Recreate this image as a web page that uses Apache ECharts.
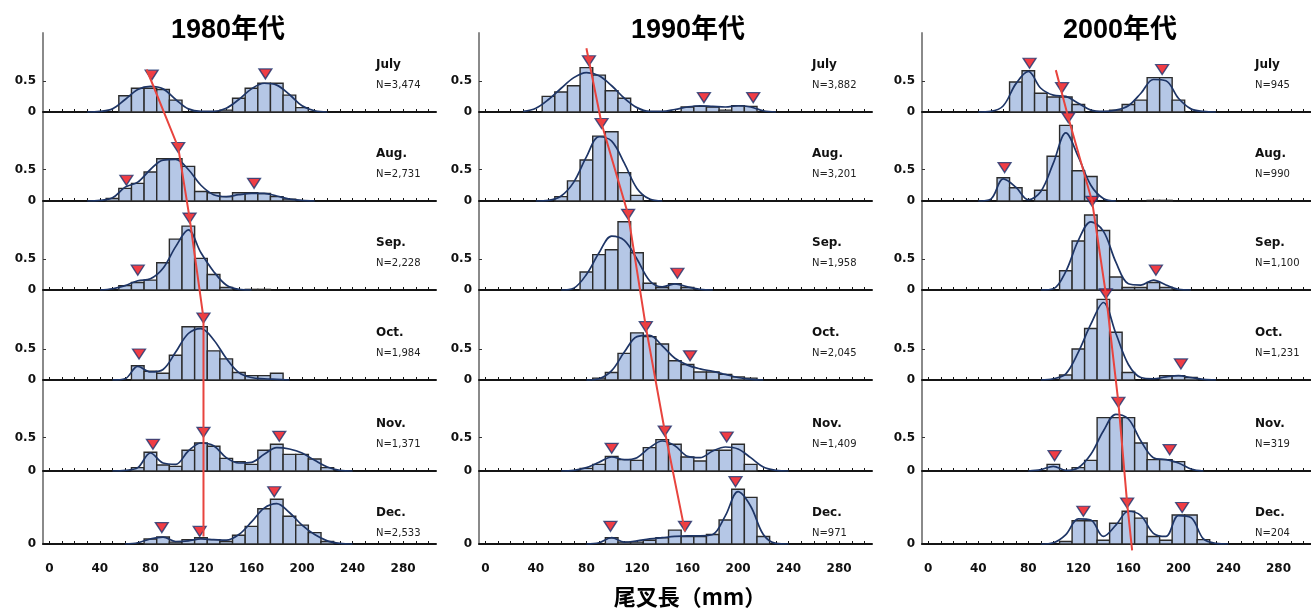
<!DOCTYPE html>
<html>
<head>
<meta charset="utf-8">
<script src="https://cdn.jsdelivr.net/npm/echarts@6/dist/echarts.min.js"></script>
<style>
html, body { margin: 0; padding: 0; background: #fff; }
#chart { width: 1311px; height: 610px; }
</style>
</head>
<body>
<div id="chart"></div>
<script>
// fork length classes (mm), one value per 10 mm bin
const lengths = [30, 40, 50, 60, 70, 80, 90, 100, 110, 120, 130, 140, 150, 160, 170, 180, 190, 200, 210, 220, 230, 240];
const decades = ['1980年代', '1990年代', '2000年代'];
const months = ['July', 'Aug.', 'Sep.', 'Oct.', 'Nov.', 'Dec.'];
const n1980 = ['3,474', '2,731', '2,228', '1,984', '1,371', '2,533'];
const n1990 = ['3,882', '3,201', '1,958', '2,045', '1,409', '971'];
const n2000 = ['945', '990', '1,100', '1,231', '319', '204'];
const xTicks = [0, 10, 20, 30, 40, 50, 60, 70, 80, 90, 100, 110, 120, 130, 140, 150, 160, 170, 180, 190, 200, 210, 220, 230, 240, 250, 260, 270, 280, 290, 300];
const xLabels = [0, 40, 80, 120, 160, 200, 240, 280];

const bars1980 = [
    [0, 0, 0, 0.26, 0.38, 0.38, 0.36, 0.19, 0, 0, 0, 0.03, 0.22, 0.38, 0.46, 0.46, 0.27, 0.07, 0, 0, 0, 0],
    [0, 0, 0.04, 0.2, 0.28, 0.46, 0.67, 0.67, 0.55, 0.15, 0.13, 0.07, 0.13, 0.13, 0.12, 0.07, 0.03, 0, 0, 0, 0, 0],
    [0, 0, 0, 0.07, 0.12, 0.16, 0.44, 0.82, 1.03, 0.51, 0.25, 0.04, 0, 0.01, 0.01, 0, 0, 0, 0, 0, 0, 0],
    [0, 0, 0, 0, 0.23, 0.14, 0.11, 0.4, 0.86, 0.86, 0.47, 0.34, 0.12, 0.07, 0.07, 0.11, 0, 0, 0, 0, 0, 0],
    [0, 0, 0, 0, 0.05, 0.28, 0.09, 0.07, 0.31, 0.42, 0.37, 0.19, 0.14, 0.1, 0.31, 0.4, 0.25, 0.25, 0.18, 0.05, 0, 0],
    [0, 0, 0, 0, 0, 0.08, 0.11, 0.03, 0.07, 0.1, 0.07, 0.04, 0.14, 0.28, 0.56, 0.71, 0.44, 0.3, 0.18, 0.04, 0, 0],
];
const curve1980 = [
    [0, 0.01, 0.05, 0.2, 0.36, 0.41, 0.37, 0.2, 0.05, 0.01, 0.01, 0.06, 0.2, 0.37, 0.46, 0.43, 0.28, 0.1, 0.02, 0, 0, 0],
    [0, 0.01, 0.05, 0.22, 0.3, 0.5, 0.65, 0.66, 0.5, 0.25, 0.1, 0.07, 0.1, 0.12, 0.12, 0.08, 0.03, 0.01, 0, 0, 0, 0],
    [0, 0, 0.02, 0.07, 0.15, 0.18, 0.35, 0.7, 0.97, 0.6, 0.3, 0.08, 0.01, 0, 0, 0, 0, 0, 0, 0, 0, 0],
    [0, 0, 0, 0.02, 0.22, 0.13, 0.17, 0.45, 0.75, 0.83, 0.65, 0.35, 0.12, 0.04, 0.02, 0.01, 0, 0, 0, 0, 0, 0],
    [0, 0, 0, 0.01, 0.05, 0.27, 0.12, 0.1, 0.3, 0.42, 0.38, 0.2, 0.12, 0.13, 0.25, 0.35, 0.33, 0.27, 0.16, 0.06, 0.01, 0],
    [0, 0, 0, 0, 0.02, 0.08, 0.11, 0.04, 0.05, 0.08, 0.07, 0.06, 0.15, 0.35, 0.57, 0.64, 0.5, 0.3, 0.15, 0.05, 0.01, 0],
];
const modes1980 = [
    [[81, 0.59], [171, 0.61]],
    [[61, 0.33], [102, 0.85], [162, 0.28]],
    [[70, 0.32], [111, 1.16]],
    [[71, 0.42], [122, 1.0]],
    [[82, 0.4], [122, 0.58], [182, 0.52]],
    [[89, 0.26], [119, 0.2], [178, 0.83]],
];
// [month row, length, height] of the red growth line
const path1980 = [[0, 77, 0.68], [1, 102, 0.85], [2, 111, 1.16], [3, 122, 1.0], [4, 122, 0.58], [5, 122, 0.12]];

const bars1990 = [
    [0, 0, 0.25, 0.32, 0.42, 0.71, 0.59, 0.34, 0.22, 0, 0, 0, 0, 0.08, 0.09, 0.08, 0.03, 0.1, 0.09, 0, 0, 0],
    [0, 0, 0, 0.07, 0.32, 0.65, 1.03, 1.1, 0.45, 0.09, 0, 0, 0, 0, 0, 0, 0, 0, 0, 0, 0, 0],
    [0, 0, 0, 0, 0, 0.29, 0.57, 0.65, 1.1, 0.6, 0.11, 0.04, 0.1, 0.04, 0, 0, 0, 0, 0, 0, 0, 0],
    [0, 0, 0, 0, 0, 0, 0.03, 0.12, 0.43, 0.76, 0.7, 0.58, 0.31, 0.25, 0.13, 0.13, 0.09, 0.05, 0.03, 0, 0, 0],
    [0, 0, 0, 0, 0, 0.04, 0.1, 0.22, 0.17, 0.16, 0.35, 0.47, 0.4, 0.21, 0.15, 0.31, 0.31, 0.4, 0.1, 0, 0, 0],
    [0, 0, 0, 0, 0, 0, 0, 0.1, 0.03, 0.03, 0.06, 0.1, 0.22, 0.12, 0.12, 0.15, 0.38, 0.87, 0.74, 0.12, 0, 0],
];
const curve1990 = [
    [0.01, 0.06, 0.2, 0.38, 0.55, 0.63, 0.58, 0.42, 0.22, 0.07, 0.01, 0.01, 0.04, 0.08, 0.1, 0.09, 0.08, 0.1, 0.08, 0.02, 0, 0],
    [0, 0, 0.01, 0.08, 0.3, 0.7, 1.02, 0.95, 0.6, 0.2, 0.03, 0, 0, 0, 0, 0, 0, 0, 0, 0, 0, 0],
    [0, 0, 0, 0, 0.03, 0.25, 0.6, 0.87, 0.8, 0.5, 0.15, 0.05, 0.1, 0.05, 0.01, 0, 0, 0, 0, 0, 0, 0],
    [0, 0, 0, 0, 0, 0, 0.02, 0.15, 0.45, 0.7, 0.72, 0.55, 0.35, 0.24, 0.18, 0.14, 0.09, 0.04, 0.01, 0, 0, 0],
    [0, 0, 0, 0, 0.01, 0.05, 0.13, 0.21, 0.17, 0.2, 0.35, 0.45, 0.38, 0.22, 0.2, 0.3, 0.36, 0.33, 0.2, 0.06, 0.01, 0],
    [0, 0, 0, 0, 0, 0, 0.02, 0.1, 0.03, 0.05, 0.08, 0.1, 0.12, 0.13, 0.13, 0.15, 0.45, 0.83, 0.6, 0.15, 0.01, 0],
];
const modes1990 = [
    [[82, 0.82], [173, 0.23], [212, 0.23]],
    [[92, 1.23]],
    [[113, 1.22], [152, 0.27]],
    [[127, 0.86], [162, 0.39]],
    [[100, 0.34], [142, 0.6], [191, 0.51]],
    [[99, 0.28], [158, 0.28], [198, 0.99]],
];
const path1990 = [[0, 80, 1.02], [1, 92, 1.23], [2, 113, 1.22], [3, 127, 0.86], [4, 142, 0.6], [5, 158, 0.2]];

const bars2000 = [
    [0, 0, 0, 0, 0.48, 0.66, 0.3, 0.24, 0.24, 0.12, 0, 0, 0.03, 0.12, 0.19, 0.55, 0.55, 0.19, 0, 0, 0, 0],
    [0, 0, 0, 0.37, 0.21, 0, 0.17, 0.71, 1.2, 0.48, 0.39, 0, 0, 0, 0, 0.01, 0.01, 0, 0, 0, 0, 0],
    [0, 0, 0, 0, 0, 0, 0, 0, 0.31, 0.79, 1.21, 0.96, 0.21, 0.04, 0.04, 0.12, 0.04, 0, 0, 0, 0, 0],
    [0, 0, 0, 0, 0, 0, 0, 0, 0.08, 0.5, 0.83, 1.3, 0.77, 0.12, 0, 0, 0.07, 0.07, 0.04, 0, 0, 0],
    [0, 0, 0, 0, 0, 0, 0, 0.1, 0, 0.05, 0.16, 0.8, 0.8, 0.8, 0.42, 0.17, 0.17, 0.14, 0, 0, 0, 0],
    [0, 0, 0, 0, 0, 0, 0, 0, 0.04, 0.37, 0.37, 0.06, 0.33, 0.52, 0.41, 0.12, 0.06, 0.46, 0.46, 0.07, 0, 0],
];
const curve2000 = [
    [0, 0, 0.01, 0.1, 0.45, 0.65, 0.38, 0.27, 0.25, 0.14, 0.03, 0.01, 0.03, 0.1, 0.3, 0.52, 0.5, 0.22, 0.05, 0.01, 0, 0],
    [0, 0, 0.03, 0.35, 0.22, 0.02, 0.15, 0.6, 1.08, 0.7, 0.25, 0.04, 0, 0, 0, 0, 0, 0, 0, 0, 0, 0],
    [0, 0, 0, 0, 0, 0, 0, 0.02, 0.3, 0.8, 1.1, 0.95, 0.45, 0.1, 0.08, 0.16, 0.08, 0.01, 0, 0, 0, 0],
    [0, 0, 0, 0, 0, 0, 0, 0.02, 0.1, 0.45, 0.9, 1.25, 0.75, 0.25, 0.04, 0.02, 0.05, 0.07, 0.04, 0.01, 0, 0],
    [0, 0, 0, 0, 0, 0, 0.02, 0.07, 0.01, 0.05, 0.25, 0.6, 0.85, 0.78, 0.45, 0.2, 0.17, 0.12, 0.03, 0, 0, 0],
    [0, 0, 0, 0, 0, 0, 0, 0.02, 0.15, 0.4, 0.38, 0.12, 0.3, 0.52, 0.45, 0.17, 0.12, 0.45, 0.42, 0.08, 0.01, 0],
];
const modes2000 = [
    [[81, 0.78], [107, 0.39], [187, 0.68]],
    [[61, 0.53], [112, 1.32]],
    [[131, 1.43], [182, 0.32]],
    [[142, 1.39], [202, 0.26]],
    [[101, 0.23], [152, 1.03], [193, 0.32]],
    [[124, 0.52], [159, 0.65], [203, 0.58]],
];
const path2000 = [[0, 102, 0.67], [1, 112, 1.32], [2, 131, 1.43], [3, 142, 1.39], [4, 152, 1.03], [5, 159, 0.65], [5, 163, -0.1]];

// layout
const colLeft = [43, 479, 922];
const colCenter = [228, 688, 1120];
const gridWidth = 393;
const rowTop = [33, 112, 201, 290, 380, 471];
const rowBase = [112, 201, 290, 380, 471, 544];
const rowScale = [62.5, 63, 62, 62, 66.7, 63]; // px per unit

const allBars = [bars1980, bars1990, bars2000];
const allCurves = [curve1980, curve1990, curve2000];
const allModes = [modes1980, modes1990, modes2000];
const allPaths = [path1980, path1990, path2000];
const allN = [n1980, n1990, n2000];

const numFont = '"DejaVu Sans", "Liberation Sans", sans-serif';
const cjkFont = '"Liberation Sans", "Noto Sans CJK JP", sans-serif';

const trimCurve = (values) => {
    const pts = lengths.map((x, i) => [x, values[i]]);
    let first = pts.findIndex((p) => p[1] > 0);
    let last = pts.length - 1;
    while (last > 0 && pts[last][1] <= 0) last--;
    return pts.slice(Math.max(0, first - 1), Math.min(pts.length, last + 2));
};

const renderBar = (params, api) => {
    const x = api.value(0);
    const y = api.value(1);
    const p0 = api.coord([x - 5, y]);
    const p1 = api.coord([x + 5, 0]);
    return {
        type: 'rect',
        shape: { x: p0[0], y: p0[1], width: p1[0] - p0[0], height: p1[1] - p0[1] },
        style: { fill: '#b5c7e6', stroke: '#2b2b2b', lineWidth: 1.4 },
    };
};

const grid = [];
const xAxis = [];
const yAxis = [];
const series = [];
const graphic = [];

for (let c = 0; c < 3; c++) {
    for (let r = 0; r < 6; r++) {
        const idx = c * 6 + r;
        const h = rowBase[r] - rowTop[r];
        const last = r === 5;
        grid.push({ left: colLeft[c], top: rowTop[r], width: gridWidth, height: h });
        xAxis.push({
            gridIndex: idx,
            type: 'value',
            min: -5,
            max: 306,
            splitLine: { show: false },
            axisLine: { show: true, lineStyle: { color: '#151515', width: 2 } },
            axisTick: {
                show: true, inside: true, length: 3, customValues: xTicks,
                lineStyle: { color: '#151515', width: 1 },
            },
            axisLabel: {
                show: last, customValues: xLabels, margin: 19,
                fontFamily: numFont, fontWeight: 'bold', fontSize: 12, color: '#111',
            },
        });
        yAxis.push({
            gridIndex: idx,
            type: 'value',
            min: 0,
            max: h / rowScale[r],
            splitLine: { show: false },
            axisLine: { show: true, onZero: false, lineStyle: { color: '#8a8a8a', width: 2 } },
            axisTick: {
                show: !last, inside: true, length: 3, customValues: [0.5],
                lineStyle: { color: '#333', width: 1 },
            },
            axisLabel: {
                customValues: last ? [0] : [0, 0.5], margin: 7,
                fontFamily: numFont, fontWeight: 'bold', fontSize: 12, color: '#111',
            },
        });

        series.push({
            type: 'custom',
            xAxisIndex: idx,
            yAxisIndex: idx,
            data: lengths.map((x, i) => [x, allBars[c][r][i]]).filter((d) => d[1] > 0),
            renderItem: renderBar,
            clip: false,
            silent: true,
            z: 2,
        });
        series.push({
            type: 'line',
            xAxisIndex: idx,
            yAxisIndex: idx,
            data: trimCurve(allCurves[c][r]),
            smooth: 0.35,
            showSymbol: false,
            lineStyle: { color: '#1e3566', width: 1.7 },
            silent: true,
            z: 3,
        });
        series.push({
            type: 'scatter',
            xAxisIndex: idx,
            yAxisIndex: idx,
            data: allModes[c][r],
            symbol: 'triangle',
            symbolRotate: 180,
            symbolSize: [13, 10],
            itemStyle: { color: '#ec0d17', borderColor: '#1c3470', borderWidth: 1.3 },
            clip: false,
            silent: true,
            z: 5,
        });

        const labelY = last ? rowBase[r] - 31 : rowBase[r] - 47;
        graphic.push({
            type: 'text', x: colLeft[c] + 333, y: labelY,
            style: { text: months[r], font: 'bold 12px ' + numFont, fill: '#111', verticalAlign: 'middle' },
        });
        graphic.push({
            type: 'text', x: colLeft[c] + 333, y: labelY + 20,
            style: { text: 'N=' + allN[c][r], font: '10px ' + numFont, fill: '#222', verticalAlign: 'middle' },
        });
    }
    graphic.push({
        type: 'text', x: colCenter[c], y: 31,
        style: { text: decades[c], font: 'bold 27px ' + cjkFont, fill: '#000', align: 'center', verticalAlign: 'middle' },
    });
}
graphic.push({
    type: 'text', x: 690, y: 597,
    style: { text: '尾叉長（mm）', font: 'bold 22px "Noto Sans CJK JP", sans-serif', fill: '#000', align: 'center', verticalAlign: 'middle' },
});

const chart = echarts.init(document.getElementById('chart'));
chart.setOption({
    animation: false,
    backgroundColor: '#fff',
    grid,
    xAxis,
    yAxis,
    series,
});

// red growth lines, placed through each panel's own scales
allPaths.forEach((path, c) => {
    graphic.push({
        type: 'polyline',
        z: 100,
        shape: { points: path.map(([r, x, y]) => chart.convertToPixel({ gridIndex: c * 6 + r }, [x, y])) },
        style: { stroke: '#e8443e', lineWidth: 2, fill: null },
    });
});
chart.setOption({ graphic });
</script>
</body>
</html>
